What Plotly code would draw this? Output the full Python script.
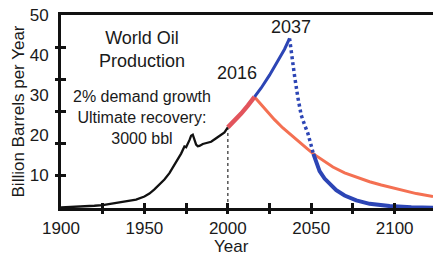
import plotly.graph_objects as go

# ---- data (billion barrels per year) ----
hist_years = [1900, 1905, 1910, 1915, 1920, 1925, 1930, 1935, 1940, 1945, 1950, 1953, 1956, 1959,
              1962, 1965, 1968, 1970, 1972, 1974, 1975, 1977, 1978, 1979, 1980, 1981, 1982, 1983,
              1985, 1987, 1990, 1993, 1996, 1998, 2000]
hist_vals = [0.15, 0.25, 0.35, 0.5, 0.7, 0.9, 1.3, 1.6, 2.0, 2.6, 3.6, 4.5, 5.8, 7.2,
             8.9, 10.9, 13.5, 15.2, 17.0, 19.2, 19.0, 21.2, 22.6, 22.9, 21.5, 19.8, 19.3, 19.4,
             20.0, 20.2, 20.7, 21.8, 22.8, 23.6, 25.2]

growth_years = [2000, 2004, 2008, 2012, 2016]
growth_vals = [25.2, 27.3, 29.5, 32.0, 34.7]

orange_years = [2016, 2020, 2024, 2028, 2033, 2037, 2042, 2047, 2051.3, 2057, 2063, 2070, 2077,
                2085, 2092, 2097, 2105, 2113, 2123]
orange_vals = [34.7, 32.3, 30.0, 27.6, 25.0, 23.3, 21.0, 18.8, 16.9, 14.8, 12.8, 11.0, 9.6,
               8.2, 7.2, 6.6, 5.5, 4.5, 3.6]

blue_rise_years = [2016, 2020, 2025, 2030, 2034, 2037]
blue_rise_vals = [34.7, 37.5, 41.5, 45.8, 49.6, 53.0]

blue_drop_years = [2037, 2038, 2040, 2042, 2044, 2046, 2048, 2050, 2051.3]
blue_drop_vals = [53.0, 48.3, 41.3, 34.5, 29.0, 26.0, 23.3, 19.5, 16.9]

blue_tail_years = [2051.3, 2053, 2055, 2058, 2061, 2065, 2070, 2077, 2085, 2097, 2110, 2123]
blue_tail_vals = [16.9, 14.2, 11.5, 9.2, 7.6, 5.6, 3.9, 2.4, 1.3, 0.6, 0.25, 0.1]

marker_year = [2000, 2000]
marker_vals = [0, 25.2]

x_tick_marks = [1925, 1950, 1975, 2000, 2025, 2050, 2075, 2100]
x_tick_labels = [1900, 1950, 2000, 2050, 2100]
y_tick_marks = [10, 20, 30, 40, 50]
y_tick_labels = [10, 20, 30, 40, 50]

FONT = "Liberation Sans, Arial, sans-serif"
TXT = "#1a1a1a"
RED = "#e2545c"
ORANGE = "#f47052"
BLUE = "#2c45b5"

fig = go.Figure()
fig.add_trace(go.Scatter(x=marker_year, y=marker_vals, mode="lines",
                         line=dict(color="#555555", width=1.5, dash="dot"), hoverinfo="skip"))
fig.add_trace(go.Scatter(x=hist_years, y=hist_vals, mode="lines",
                         line=dict(color="#111111", width=2.3)))
fig.add_trace(go.Scatter(x=orange_years, y=orange_vals, mode="lines",
                         line=dict(color=ORANGE, width=3)))
fig.add_trace(go.Scatter(x=blue_rise_years, y=blue_rise_vals, mode="lines",
                         line=dict(color=BLUE, width=3)))
fig.add_trace(go.Scatter(x=blue_drop_years, y=blue_drop_vals, mode="lines",
                         line=dict(color=BLUE, width=3.5, dash="3px,3px")))
fig.add_trace(go.Scatter(x=blue_tail_years, y=blue_tail_vals, mode="lines",
                         line=dict(color=BLUE, width=4)))
fig.add_trace(go.Scatter(x=growth_years, y=growth_vals, mode="lines",
                         line=dict(color=RED, width=4.5)))

XR = [1900, 2123]
YR = [0, 60.3]

fig.update_layout(
    width=434, height=255,
    margin=dict(l=61, r=1, t=15, b=47, autoexpand=False),
    paper_bgcolor="white", plot_bgcolor="white",
    showlegend=False,
    font=dict(family=FONT, color=TXT, size=16),
    xaxis=dict(range=XR, showgrid=False, zeroline=False, showline=True, linecolor="#111111",
               linewidth=2.5, mirror=True, tickmode="array", tickvals=x_tick_marks,
               ticks="inside", ticklen=5, tickwidth=2.5, tickcolor="#111111",
               showticklabels=False, automargin=False),
    xaxis2=dict(range=XR, overlaying="x", anchor="y", side="bottom", showgrid=False,
                zeroline=False, showline=False, tickmode="array", tickvals=x_tick_marks,
                ticks="outside", ticklen=5, tickwidth=2.5, tickcolor="#111111",
                showticklabels=False, automargin=False),
    xaxis3=dict(range=XR, overlaying="x", anchor="y", side="bottom", showgrid=False,
                zeroline=False, showline=False, tickmode="array", tickvals=x_tick_labels,
                ticks="outside", ticklen=5, tickcolor="rgba(0,0,0,0)", automargin=False,
                tickfont=dict(size=17, family=FONT, color=TXT)),
    yaxis=dict(range=YR, showgrid=False, zeroline=False, showline=True, linecolor="#111111",
               linewidth=2.5, tickmode="array", tickvals=y_tick_marks,
               ticks="inside", ticklen=5, tickwidth=2.5, tickcolor="#111111",
               showticklabels=False, automargin=False),
    yaxis2=dict(range=YR, overlaying="y", anchor="x", side="left", showgrid=False,
                zeroline=False, showline=False, tickmode="array", tickvals=y_tick_marks,
                ticks="outside", ticklen=5, tickwidth=2.5, tickcolor="#111111",
                showticklabels=False, automargin=False),
    yaxis3=dict(range=[1.75, 50], overlaying="y", anchor="x", side="left", showgrid=False,
                zeroline=False, showline=False, tickmode="array", tickvals=y_tick_labels,
                ticks="outside", ticklen=8, tickcolor="rgba(0,0,0,0)", automargin=False,
                tickfont=dict(size=17, family=FONT, color=TXT),
                title=dict(text="Billion Barrels per Year", standoff=0,
                           font=dict(size=17, family=FONT, color=TXT))),
)

# helper invisible traces so the overlay axes are drawn
fig.add_trace(go.Scatter(x=[], y=[], xaxis="x2", yaxis="y2", showlegend=False))
fig.add_trace(go.Scatter(x=[], y=[], xaxis="x3", yaxis="y3", showlegend=False))

fig.add_annotation(x=1948.5, y=49.5, xref="x", yref="y", text="World Oil<br>Production",
                   showarrow=False, font=dict(size=18, family=FONT, color=TXT))
fig.add_annotation(x=1948.5, y=28.4, xref="x", yref="y",
                   text="2% demand growth<br>Ultimate recovery:<br>3000 bbl",
                   showarrow=False, font=dict(size=16, family=FONT, color=TXT))
fig.add_annotation(x=2005.5, y=42.2, xref="x", yref="y", text="2016",
                   showarrow=False, font=dict(size=18, family=FONT, color=TXT))
fig.add_annotation(x=2038, y=56.4, xref="x", yref="y", text="2037",
                   showarrow=False, font=dict(size=18, family=FONT, color=TXT))
fig.add_annotation(x=2002, y=-0.197, xref="x", yref="paper", text="Year",
                   showarrow=False, yanchor="middle", font=dict(size=17, family=FONT, color=TXT))

fig.write_html("out.html", config={"displayModeBar": False},
               post_script="document.body.style.margin='0';document.body.style.overflow='hidden';")
